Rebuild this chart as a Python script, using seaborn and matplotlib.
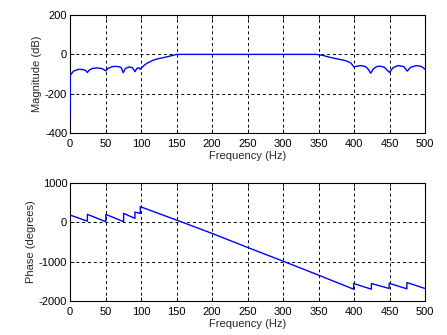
import matplotlib
matplotlib.use("Agg")
import matplotlib.pyplot as plt
import seaborn as sns

sns.set_style("white")
plt.rcParams['font.family'] = ['Liberation Sans', 'DejaVu Sans']

# Magnitude response (Hz, dB)
mag_freq = [0, 0.5, 5, 12, 18, 22, 24.5, 27, 32, 38, 45, 50.5, 54, 60, 66, 72, 75, 78, 83, 88, 91.5, 94, 97, 99,
            103, 108, 113, 117, 124, 131, 138, 145, 150, 200, 250, 300, 347, 356, 366, 375, 383, 390, 396, 400,
            404, 410, 416, 420, 423.5, 427, 432, 437, 443, 450, 455, 462, 470, 475, 480, 488, 495, 500]
mag_db = [-325, -105, -85, -76, -77, -82, -92, -80, -71, -69, -72, -84, -70, -62, -61, -66, -93, -72, -64, -68, -88, -72, -68, -76,
          -60, -46, -37, -30, -22, -17, -11, -5, 0, 0, 0, 0, 0, -5, -15, -22, -28, -34, -45, -65,
          -60, -57, -62, -75, -96, -75, -62, -60, -66, -92, -68, -57, -62, -85, -65, -57, -62, -75]

# Phase response (Hz, degrees)
ph_freq = [0, 24.5, 24.5, 50.5, 50.5, 75.5, 75.5, 91.5, 91.5, 99, 99, 150, 200, 250, 300, 350, 399.5,
           399.5, 424.5, 424.5, 449.5, 449.5, 474.5, 474.5, 500]
ph_deg = [187, 30, 204, 17, 204, 17, 229, 102, 263, 229, 399, 59, -280, -637, -986, -1342, -1700,
          -1555, -1700, -1555, -1682, -1550, -1690, -1530, -1682]

fig = plt.figure(figsize=(4.47, 3.35), dpi=100)
ax1 = fig.add_axes([0.1566, 0.603, 0.7942, 0.352])
ax2 = fig.add_axes([0.1566, 0.1015, 0.7942, 0.352])

sns.lineplot(x=mag_freq, y=mag_db, ax=ax1, color=(0, 0, 1), lw=1, estimator=None, sort=False, zorder=3)
sns.lineplot(x=ph_freq, y=ph_deg, ax=ax2, color=(0, 0, 1), lw=1, estimator=None, sort=False, zorder=3)

xt = list(range(0, 501, 50))
for ax, yl, yt, ylab in [(ax1, (-400, 200), [-400, -200, 0, 200], 'Magnitude (dB)'),
                         (ax2, (-2000, 1000), [-2000, -1000, 0, 1000], 'Phase (degrees)')]:
    ax.set_xlim(0, 500)
    ax.set_ylim(*yl)
    ax.set_xticks(xt)
    ax.set_yticks(yt)
    ax.set_xticklabels([str(v) for v in xt])
    ax.set_yticklabels([str(v) for v in yt])
    ax.grid(True, color='black', linestyle=(0, (3, 3)), linewidth=0.7)
    ax.set_axisbelow(True)
    ax.set_xlabel('Frequency (Hz)', fontsize=8, labelpad=2)
    ax.set_ylabel(ylab, fontsize=8, labelpad=2)
    ax.tick_params(direction='in', length=3, width=0.6, labelsize=8, pad=2,
                   top=True, right=True, bottom=True, left=True, colors='black')
    ax.tick_params(axis='x', pad=4)
    for s in ax.spines.values():
        s.set_color('black')
        s.set_linewidth(0.8)
        s.set_visible(True)
        s.set_zorder(2)

fig.savefig('out.png', dpi=100, facecolor='white')
